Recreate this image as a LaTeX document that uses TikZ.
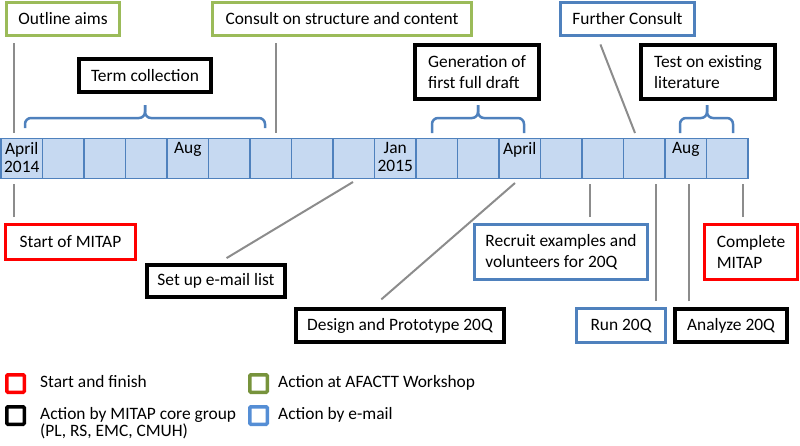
\documentclass[tikz,border=0pt]{standalone}
\usepackage{fontspec}
\setmainfont{Carlito}
\usetikzlibrary{positioning}

\definecolor{mitapred}{RGB}{255,0,0}
\definecolor{afactgreen}{RGB}{155,187,89}
\definecolor{leggreen}{RGB}{119,147,60}
\definecolor{mailblue}{RGB}{79,129,189}
\definecolor{legblue}{RGB}{85,142,213}
\definecolor{cellfill}{RGB}{198,217,241}
\definecolor{cellline}{RGB}{79,129,189}
\definecolor{linkgray}{RGB}{140,140,140}

\tikzset{
  txt/.style={font=\fontsize{17.4}{21}\selectfont},
  box/.style={txt, draw, line width=3pt, fill=white, inner sep=2pt, align=left},
  redbox/.style={box, draw=mitapred},
  greenbox/.style={box, draw=afactgreen},
  bluebox/.style={box, draw=mailblue},
  blackbox/.style={box, draw=black, line width=3.5pt},
  cell/.style={draw=cellline, fill=cellfill, line width=1.2pt, minimum width=41.5pt, minimum height=40pt, inner sep=0pt},
  month/.style={font=\fontsize{17.4}{17.5}\selectfont, align=center, anchor=north, inner sep=4.5pt},
  brace/.style={draw=mailblue, line width=2.5pt, rounded corners=6pt},
  link/.style={draw=linkgray, line width=2pt, shorten <=6pt},
  legsq/.style={draw, line width=3.5pt, minimum size=17.5pt, inner sep=0pt, rounded corners=1pt},
  legtxt/.style={font=\fontsize{17.4}{17}\selectfont, align=left, inner sep=0pt}
}

\begin{document}
\begin{tikzpicture}[x=1pt, y=-1pt]
    \useasboundingbox (0,0) rectangle (800,445);

    % timeline, April 2014 to September 2015
    \foreach \i in {0,...,17} {
        \node[cell] (c\i) at ({21.75+41.5*\i}, 158.5) {};
    }
    \foreach \i/\t in {0/{April\\2014}, 4/Aug, 9/{Jan\\2015}, 12/April, 16/Aug} {
        \node[month] (m\i) at (c\i.north) {\t};
    }

    % boxes above the timeline
    \node[greenbox, minimum width=113pt, minimum height=33pt] (aims) at (63,19) {Outline aims};
    \node[greenbox, minimum width=259pt, minimum height=33pt] (consult) at (342,19) {Consult on structure and content};
    \node[bluebox, minimum width=134pt, minimum height=33pt] (further) at (627.5,19) {Further Consult};
    \node[blackbox, minimum width=132pt, minimum height=33pt] (term) at (145,75.5) {Term collection};
    \node[blackbox, minimum width=124pt, minimum height=54pt] (draft) at (477,72) {Generation of\\first full draft};
    \node[blackbox, minimum width=134pt, minimum height=54pt] (test) at (708,72) {Test on existing\\literature};

    % boxes below the timeline
    \node[redbox, minimum width=130pt, minimum height=35pt] (start) at (70.5,242) {Start of MITAP};
    \node[blackbox, minimum width=138pt, minimum height=32pt] (email) at (216,281) {Set up e-mail list};
    \node[blackbox, minimum width=208pt, minimum height=33pt] (design) at (400,325.5) {Design and Prototype 20Q};
    \node[bluebox, minimum width=173pt, minimum height=55pt] (recruit) at (561,252) {Recruit examples and\\volunteers for 20Q};
    \node[bluebox, minimum width=89pt, minimum height=34pt] (run) at (621,325.5) {Run 20Q};
    \node[blackbox, minimum width=112pt, minimum height=33pt] (analyze) at (731,325.5) {Analyze 20Q};
    \node[redbox, minimum width=93pt, minimum height=55pt] (complete) at (751,252) {Complete\\MITAP};

    % braces over the timeline
    \foreach \a/\m/\b/\e in {25/145/265/128, 432/478/524/133, 680/707/733/133} {
        \draw[brace] (\a,\e) |- (\m,118) -- (\m,105);
        \draw[brace] (\b,\e) |- (\m,118) -- (\m,105);
    }

    % links to the timeline
    \foreach \n/\x in {aims/14, consult/276} {
        \coordinate (\n-tl) at (\x,133);
        \draw[link] (\n.south -| \n-tl) -- (\n-tl);
    }
    \foreach \n/\x in {start/14, recruit/590, run/656, analyze/689, complete/743} {
        \coordinate (\n-tl) at (\x,184);
        \draw[link] (\n.north -| \n-tl) -- (\n-tl);
    }
    \coordinate (further-tl) at (635,133);
    \draw[link, shorten <=8pt] ([xshift=-30pt]further.south) -- (further-tl);
    \coordinate (email-tl) at (353,182);
    \draw[link, shorten <=10pt] ([xshift=2pt]email.north) -- (email-tl);
    \coordinate (design-tl) at (515,183);
    \draw[link, shorten <=12pt] ([xshift=-27.7pt]design.north) -- (design-tl);

    % legend
    \node[legsq, draw=mitapred] (lgred) at (15.5,383.5) {};
    \node[legsq, draw=black] (lgblack) at (15.5,415.5) {};
    \node[legsq, draw=leggreen] (lggreen) at (258.5,383.5) {};
    \node[legsq, draw=legblue] (lgblue) at (258.5,415.5) {};
    \node[legtxt, below right=2pt and 14pt of lgred.north east] (lgredt) {Start and finish};
    \node[legtxt, below right=2pt and 14pt of lgblack.north east] (lgblackt) {Action by MITAP core group\\(PL, RS, EMC, CMUH)};
    \node[legtxt, below right=2pt and 9pt of lggreen.north east] (lggreent) {Action at AFACTT Workshop};
    \node[legtxt, below right=2pt and 9pt of lgblue.north east] (lgbluet) {Action by e-mail};
\end{tikzpicture}
\end{document}
